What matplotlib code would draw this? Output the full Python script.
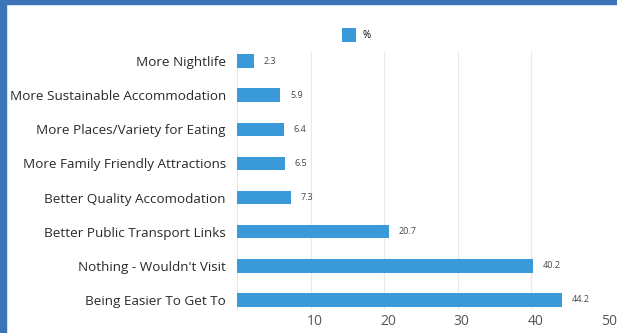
import matplotlib
matplotlib.use("Agg")
import matplotlib.pyplot as plt
from matplotlib.patches import Rectangle
import matplotlib.transforms as mtransforms

categories = [
    "More Nightlife",
    "More Sustainable Accommodation",
    "More Places/Variety for Eating",
    "More Family Friendly Attractions",
    "Better Quality Accomodation",
    "Better Public Transport Links",
    "Nothing - Wouldn't Visit",
    "Being Easier To Get To",
]
values = [2.3, 5.9, 6.4, 6.5, 7.3, 20.7, 40.2, 44.2]
xticks = [10, 20, 30, 40, 50]

bar_color = "#3a9ad9"
frame_color = "#3b74b9"

plt.rcParams["font.family"] = ["Open Sans", "DejaVu Sans"]

fig = plt.figure(figsize=(6.17, 3.33), dpi=100)
ax = fig.add_axes([0.384, 0.069, 0.5965, 0.775])

pos = list(range(len(categories)))
ax.barh(pos, values, height=0.4, color=bar_color, label="%", zorder=3)
ax.set_ylim(len(categories) - 1 + 0.3, -0.27)
ax.set_xlim(0, 50)

ax.set_yticks(pos)
ax.set_yticklabels(categories, fontsize=9.7, color="#2a2a2a")
ax.tick_params(axis="y", length=0, pad=8)

ax.set_xticks(xticks)
ax.set_xticklabels([str(t) for t in xticks], fontsize=10, color="#555555")
ax.tick_params(axis="x", length=0, pad=3)
shift = mtransforms.ScaledTranslation(4 / 100, 0, fig.dpi_scale_trans)
for lbl in ax.get_xticklabels():
    lbl.set_transform(lbl.get_transform() + shift)

ax.grid(axis="x", color="#e8e8e8", linewidth=0.8, zorder=0)
for s in ["top", "right", "bottom"]:
    ax.spines[s].set_visible(False)
ax.spines["left"].set_color("#ece8da")
ax.spines["left"].set_linewidth(0.8)

for p, v in zip(pos, values):
    ax.annotate(f"{v}", (v, p), xytext=(7, 0), textcoords="offset points",
                va="center", ha="left", fontsize=6.5, color="#444444")

ax.legend(loc="center", bbox_to_anchor=(0.578, 0.895), bbox_transform=fig.transFigure,
          frameon=False, fontsize=7, handlelength=1.4, handleheight=1.9, handletextpad=0.7)

# blue frame on the left and top edges
fig.patches.append(Rectangle((0, 0), 6 / 617, 1, transform=fig.transFigure,
                             color=frame_color, zorder=10))
fig.patches.append(Rectangle((0, 1 - 4 / 333), 1, 4 / 333, transform=fig.transFigure,
                             color=frame_color, zorder=10))

fig.savefig("out.png", dpi=100)
